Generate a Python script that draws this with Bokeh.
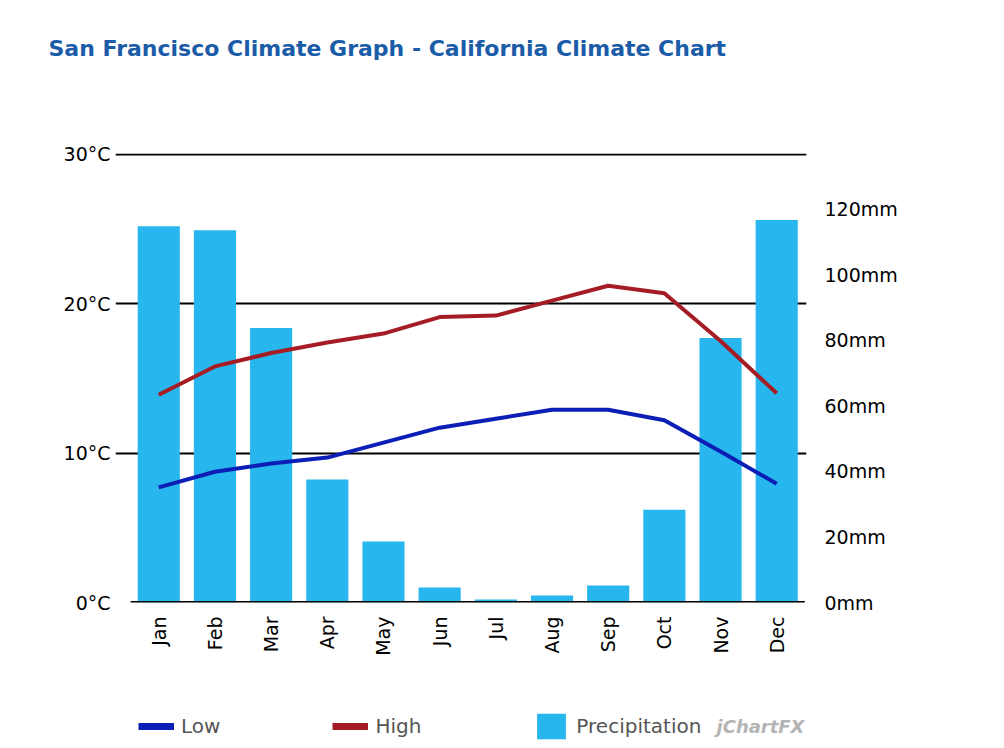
import math
from bokeh.plotting import figure
from bokeh.layouts import column
from bokeh.models import (Range1d, LinearAxis, FixedTicker, PrintfTickFormatter,
                          Legend, LegendItem, Label, Title, ColumnDataSource)
from bokeh.embed import file_html
from bokeh.resources import INLINE

months = ["Jan", "Feb", "Mar", "Apr", "May", "Jun", "Jul", "Aug", "Sep", "Oct", "Nov", "Dec"]
low_c = [7.7, 8.75, 9.3, 9.7, 10.7, 11.7, 12.3, 12.9, 12.9, 12.2, 10.1, 7.95]
high_c = [13.9, 15.8, 16.7, 17.4, 18.0, 19.1, 19.2, 20.2, 21.2, 20.7, 17.5, 14.0]
precip_mm = [114.8, 113.6, 83.8, 37.5, 18.6, 4.6, 0.9, 2.1, 5.2, 28.3, 80.7, 116.7]
temp_ticks = [0, 10, 20, 30]
precip_ticks = [0, 20, 40, 60, 80, 100, 120]

FONT = "DejaVu Sans"
BAR = "#27b6ee"
LOW = "#0b1fb6"
HIGH = "#a51c24"
W = 990


def blank(h):
    f = figure(width=W, height=h, x_range=Range1d(0, 1), y_range=Range1d(0, 1),
               output_backend="svg", toolbar_location=None, min_border=0,
               x_axis_location=None, y_axis_location=None)
    f.grid.visible = False
    f.outline_line_color = None
    f.background_fill_color = "white"
    f.border_fill_color = "white"
    return f


# ---------- title row ----------
top = blank(120)
top.title = Title(text="San Francisco Climate Graph - California Climate Chart",
                  align="left", offset=-67, standoff=66, text_font=FONT,
                  text_font_style="bold", text_font_size="22px", text_color="#1b5ca8")

# ---------- main chart ----------
xs = list(range(len(months)))
src = ColumnDataSource(dict(x=xs, low=low_c, high=high_c, precip=precip_mm))

y_top = 30.05
p = figure(frame_width=691, frame_height=449, output_backend="svg", toolbar_location=None,
           x_range=Range1d(-0.77, len(months) - 0.47), y_range=Range1d(0, y_top),
           min_border_left=115, min_border_right=W - 115 - 691, min_border_top=33,
           min_border_bottom=60)
p.outline_line_color = None
p.background_fill_color = "white"
p.border_fill_color = "white"
p.extra_y_ranges = {"precip": Range1d(0, 136.8 * y_top / 30)}

p.xgrid.visible = False
p.ygrid.ticker = FixedTicker(ticks=temp_ticks[1:])
p.ygrid.grid_line_color = "black"
p.ygrid.grid_line_width = 2

ax = p.yaxis[0]
ax.ticker = FixedTicker(ticks=temp_ticks)
ax.formatter = PrintfTickFormatter(format="%d°C")
ax.major_label_standoff = 5

ra = LinearAxis(y_range_name="precip")
ra.ticker = FixedTicker(ticks=precip_ticks)
ra.formatter = PrintfTickFormatter(format="%dmm")
ra.major_label_standoff = 18
p.add_layout(ra, "right")

xa = p.xaxis[0]
xa.ticker = FixedTicker(ticks=xs)
xa.major_label_overrides = {i: m for i, m in enumerate(months)}
xa.major_label_orientation = math.pi / 2
xa.major_label_standoff = 14

for a in (ax, ra, xa):
    a.axis_line_color = None
    a.major_tick_line_color = None
    a.minor_tick_line_color = None
    a.major_tick_out = 0
    a.major_tick_in = 0
    a.minor_tick_out = 0
    a.major_label_text_font = FONT
    a.major_label_text_font_size = "19px"
    a.major_label_text_color = "black"

p.vbar(x="x", top="precip", bottom=0, width=0.75, source=src, y_range_name="precip",
       fill_color=BAR, line_color=None)
p.segment(x0=[-0.5], x1=[len(months) - 0.5], y0=[0], y1=[0], line_color="black", line_width=3)
p.line(x="x", y="low", source=src, line_color=LOW, line_width=4)
p.line(x="x", y="high", source=src, line_color=HIGH, line_width=4)

# ---------- legend row ----------
bot = blank(82)
# invisible proxies (single-point lines / zero-size bar draw nothing)
low_leg = bot.line(x=[0], y=[0], line_color=LOW, line_width=7)
high_leg = bot.line(x=[0], y=[0], line_color=HIGH, line_width=7)
pr_leg = bot.vbar(x=[0], top=[0], bottom=[0], width=0, fill_color=BAR, line_color=None)

legend = Legend(items=[LegendItem(label="Low", renderers=[low_leg]),
                       LegendItem(label="High", renderers=[high_leg]),
                       LegendItem(label="Precipitation", renderers=[pr_leg])],
                location=(23, 2), orientation="horizontal", padding=0, margin=0, spacing=112,
                glyph_width=36, glyph_height=32, label_height=32, label_standoff=7,
                label_text_font=FONT, label_text_font_size="20px", label_text_color="#555555",
                background_fill_alpha=0, border_line_alpha=0)
bot.add_layout(legend, "center")

bot.add_layout(Label(x=689, y=18, x_units="screen", y_units="screen",
                     text="jChartFX", text_font=FONT, text_font_style="bold italic",
                     text_font_size="18px", text_color="#b4b4b4",
                     text_baseline="middle", text_align="right"))

layout = column(top, p, bot, spacing=0)
open("out.html", "w").write(file_html(layout, INLINE))
